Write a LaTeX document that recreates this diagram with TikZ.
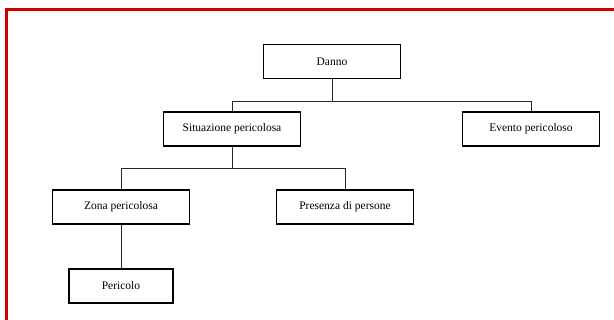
\documentclass[tikz,border=0pt]{standalone}
\usepackage{fontspec}
\setmainfont{Liberation Serif}
\begin{document}
\begin{tikzpicture}[x=1pt,y=-1pt,
    blocco/.style={draw=black, line width=1.1pt, fill=white, minimum width=137pt,
        minimum height=34pt, inner sep=0pt, font=\fontsize{11.5}{13}\selectfont},
    ramo/.style={draw=black!85, line width=1pt},
    cornice/.style={draw=red!80!black, line width=3pt}]
    \useasboundingbox (0,0) rectangle (614,320);
    \fill[white] (0,0) rectangle (614,320);

    % Cornice rossa
    \draw[cornice] (614,9.5) -- (6.5,9.5) -- (6.5,320);

    % Blocchi
    \node[blocco] (danno) at (332,61.5) {Danno};
    \node[blocco] (situazione) at (232,129) {Situazione pericolosa};
    \node[blocco] (evento) at (531,129) {Evento pericoloso};
    \node[blocco] (zona) at (121,207) {Zona pericolosa};
    \node[blocco] (presenza) at (345,207) {Presenza di persone};
    \node[blocco, minimum width=104pt] (pericolo) at (121,286) {Pericolo};

    % Collegamenti
    \draw[ramo] (danno.south) -- ++(0,22) coordinate (giunto1);
    \draw[ramo] (situazione.north) |- (giunto1) -| (evento.north);
    \draw[ramo] (situazione.south) -- ++(0,21.5) coordinate (giunto2);
    \draw[ramo] (zona.north) |- (giunto2) -| (presenza.north);
    \draw[ramo] (zona.south) -- (pericolo.north);
\end{tikzpicture}
\end{document}
